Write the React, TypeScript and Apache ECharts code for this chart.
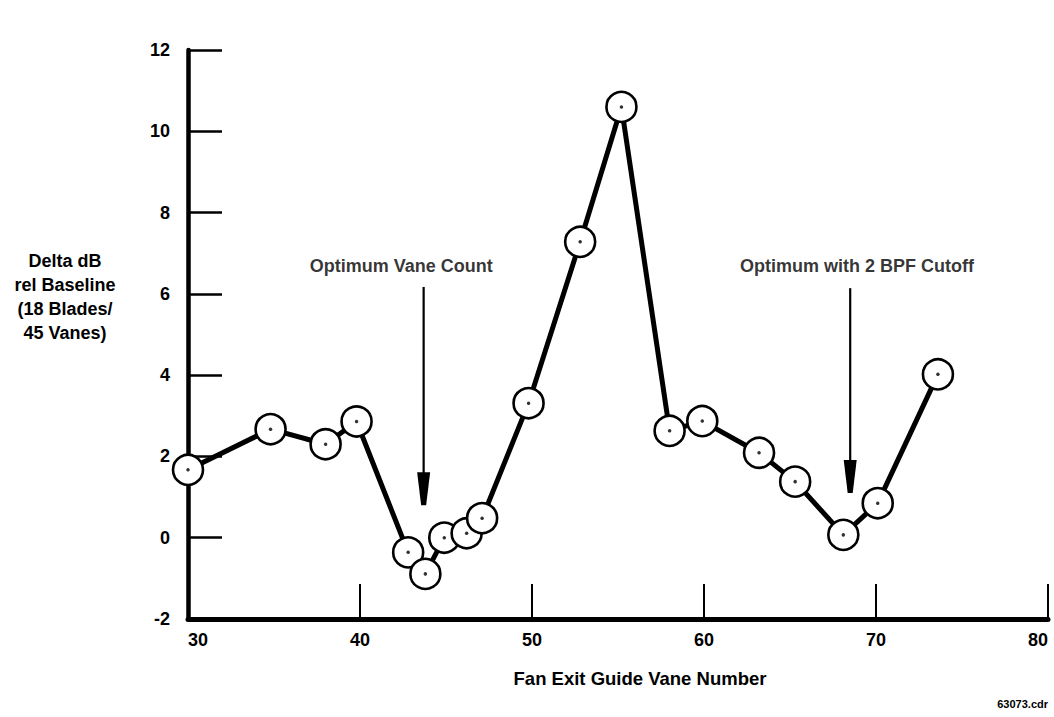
import { useEffect, useRef } from "react";
import * as echarts from "echarts";

// Fan exit guide vane count vs. tone level change (dB rel. 18 blades / 45 vanes)
const vaneCounts = [30, 34.8, 38, 39.8, 42.8, 43.8, 44.9, 46.2, 47.1, 49.8, 52.8, 55.2, 58, 59.9, 63.2, 65.3, 68.1, 70.1, 73.6];
const deltaDb = [1.67, 2.67, 2.3, 2.86, -0.36, -0.89, 0.0, 0.11, 0.48, 3.31, 7.28, 10.6, 2.63, 2.87, 2.09, 1.38, 0.07, 0.85, 4.02];

// Axis ranges
const xRange = [30, 80];
const xStep = 10;
const yRange = [-2, 12];
const yStep = 2;

// Callouts: text position and the arrow below it (shaft top, arrow tip)
const noteLabels = ["Optimum Vane Count", "Optimum with 2 BPF Cutoff"];
const noteTextX = [42.4, 68.9];
const noteTextY = [6.69, 6.69];
const arrowX = [43.7, 68.5];
const arrowTop = [6.17, 6.14];
const arrowTip = [0.8, 1.1];

const xTitle = "Fan Exit Guide Vane Number";
const yTitle = "Delta dB\nrel Baseline\n(18 Blades/\n45 Vanes)";
const fileTag = "63073.cdr";

const FONT = "'Liberation Sans', Arial, Helvetica, sans-serif";

export default function App() {
  const ref = useRef<HTMLDivElement>(null);

  useEffect(() => {
    if (!ref.current) return;
    const chart = echarts.init(ref.current, undefined, { renderer: "svg" });

    const points = vaneCounts.map((x, i) => [x, deltaDb[i]]);
    const notes = noteLabels.map((t, i) => ({ value: [noteTextX[i], noteTextY[i]], name: t }));
    const arrows = arrowX.map((x, i) => [x, arrowTop[i], arrowTip[i]]);

    chart.setOption({
      animation: false,
      backgroundColor: "#ffffff",
      grid: {
        left: 188,
        right: 6,
        top: 50,
        bottom: 98,
        containLabel: false,
        outerBoundsMode: "none",
      },
      xAxis: {
        type: "value",
        min: xRange[0],
        max: xRange[1],
        interval: xStep,
        splitLine: { show: false },
        axisLine: { show: true, onZero: false, lineStyle: { color: "#000", width: 5 } },
        axisTick: { show: true, inside: true, length: 35, lineStyle: { color: "#000", width: 2 } },
        axisLabel: {
          color: "#000",
          fontFamily: FONT,
          fontWeight: "bold",
          fontSize: 18,
          margin: 12,
          alignMinLabel: "left",
          alignMaxLabel: "right",
        },
      },
      yAxis: {
        type: "value",
        min: yRange[0],
        max: yRange[1],
        interval: yStep,
        splitLine: { show: false },
        axisLine: { show: true, onZero: false, lineStyle: { color: "#000", width: 4.5 } },
        axisTick: { show: true, inside: true, length: 34, lineStyle: { color: "#000", width: 2.5 } },
        axisLabel: {
          color: "#000",
          fontFamily: FONT,
          fontWeight: "bold",
          fontSize: 18,
          margin: 18,
        },
      },
      graphic: [
        {
          type: "text",
          x: 65,
          y: 297,
          style: {
            text: yTitle,
            fill: "#000",
            font: `bold 18px ${FONT}`,
            textAlign: "center",
            textVerticalAlign: "middle",
            lineHeight: 24,
          },
        },
        {
          type: "text",
          x: 640,
          y: 678,
          style: {
            text: xTitle,
            fill: "#000",
            font: `bold 18.5px ${FONT}`,
            textAlign: "center",
            textVerticalAlign: "middle",
          },
        },
        {
          type: "text",
          x: 1048,
          y: 704,
          style: {
            text: fileTag,
            fill: "#000",
            font: `bold 11px ${FONT}`,
            textAlign: "right",
            textVerticalAlign: "middle",
          },
        },
      ],
      series: [
        {
          type: "line",
          data: points,
          clip: false,
          symbol: "circle",
          symbolSize: 30,
          showAllSymbol: true,
          lineStyle: { color: "#000", width: 5 },
          itemStyle: { color: "#fff", borderColor: "#000", borderWidth: 2.6 },
          z: 3,
        },
        {
          type: "scatter",
          data: points,
          symbol: "circle",
          symbolSize: 3.5,
          itemStyle: { color: "#000" },
          clip: false,
          z: 5,
        },
        {
          type: "custom",
          data: arrows,
          clip: false,
          encode: { x: 0, y: [1, 2] },
          z: 4,
          renderItem: (_params: any, api: any) => {
            const top = api.coord([api.value(0), api.value(1)]);
            const tip = api.coord([api.value(0), api.value(2)]);
            const headH = 33;
            return {
              type: "group",
              children: [
                {
                  type: "line",
                  shape: { x1: top[0], y1: top[1], x2: tip[0], y2: tip[1] - headH + 2 },
                  style: { stroke: "#000", lineWidth: 2.2 },
                },
                {
                  type: "polygon",
                  shape: {
                    points: [
                      [tip[0] - 6.5, tip[1] - headH],
                      [tip[0] + 6.5, tip[1] - headH],
                      [tip[0] + 2.5, tip[1]],
                      [tip[0] - 2.5, tip[1]],
                    ],
                  },
                  style: { fill: "#000" },
                },
              ],
            };
          },
        },
        {
          type: "scatter",
          data: notes,
          symbolSize: 0,
          clip: false,
          silent: true,
          label: {
            show: true,
            position: "inside",
            formatter: (p: any) => p.name,
            color: "#000",
            fontFamily: FONT,
            fontWeight: "bold",
            fontSize: 18,
          },
          z: 6,
        },
      ],
    });

    return () => chart.dispose();
  }, []);

  return (
    <div
      ref={ref}
      style={{ position: "fixed", left: 0, top: 0, width: 1054, height: 717, background: "#fff" }}
    />
  );
}
